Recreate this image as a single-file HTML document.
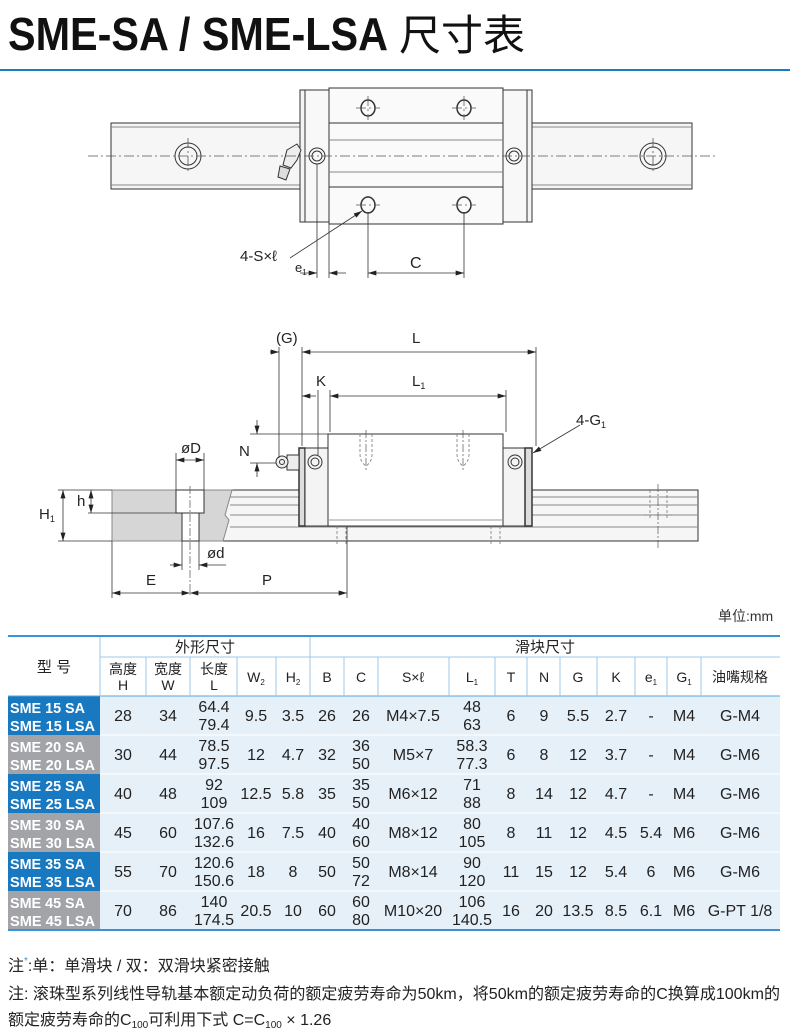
<!DOCTYPE html>
<html><head><meta charset="utf-8"><style>
html,body{margin:0;padding:0;background:#fff;}
svg{display:block;}
text{font-family:"Liberation Sans","Noto Sans CJK SC",sans-serif;}
</style></head><body>
<svg width="790" height="1034" viewBox="0 0 790 1034" xmlns="http://www.w3.org/2000/svg">
<defs>
<marker id="a" viewBox="0 0 10 6" refX="10" refY="3" markerWidth="9" markerHeight="5" orient="auto-start-reverse" markerUnits="userSpaceOnUse"><path d="M0,0L10,3L0,6z" fill="#222"/></marker>
</defs>
<!-- Title -->
<text x="8" y="50" font-size="46" font-weight="bold" fill="#111" textLength="380" lengthAdjust="spacingAndGlyphs">SME-SA / SME-LSA</text>
<text x="399" y="50" font-size="42" fill="#111" font-family="Noto Sans CJK SC,sans-serif">尺寸表</text>
<rect x="0" y="69" width="790" height="2" fill="#1a7cc1"/>

<!-- TOP VIEW -->
<g stroke="#333" stroke-width="1" fill="none">
<rect x="111" y="123" width="581" height="66" fill="#f6f6f6"/>
<line x1="111" y1="127" x2="692" y2="127" stroke="#888"/>
<line x1="111" y1="185" x2="692" y2="185" stroke="#888"/>
<rect x="300" y="90" width="232" height="132" fill="#f4f4f4"/>
<rect x="305" y="90" width="222" height="132" fill="#f8f8f8"/>
<rect x="329" y="88" width="174" height="136" fill="#fafafa"/>
<line x1="329" y1="123" x2="503" y2="123"/>
<line x1="329" y1="140" x2="503" y2="140" stroke="#888"/>
<line x1="329" y1="172" x2="503" y2="172" stroke="#888"/>
<line x1="329" y1="187" x2="503" y2="187"/>
<circle cx="188" cy="156" r="13"/><circle cx="188" cy="156" r="9"/>
<circle cx="653" cy="156" r="13"/><circle cx="653" cy="156" r="9"/>
<circle cx="317" cy="156" r="8"/><circle cx="317" cy="156" r="5"/>
<circle cx="514" cy="156" r="8"/><circle cx="514" cy="156" r="5"/>
<ellipse cx="368" cy="108" rx="7" ry="8" stroke-width="1.5"/>
<ellipse cx="464" cy="108" rx="7" ry="8" stroke-width="1.5"/>
<ellipse cx="368" cy="205" rx="7" ry="8" stroke-width="1.5"/>
<ellipse cx="464" cy="205" rx="7" ry="8" stroke-width="1.5"/>
<path d="M287,150 l10,-6 l4,6 l-4,10 l-6,8 l-8,-3 z" fill="#eee"/>
<path d="M280,166 l10,3 l-4,11 l-8,-3 z" fill="#ddd"/>
</g>
<g stroke="#555" stroke-width="0.8" stroke-dasharray="10,3,2,3">
<line x1="88" y1="156" x2="718" y2="156"/>
<line x1="188" y1="138" x2="188" y2="174"/><line x1="653" y1="138" x2="653" y2="174"/>
<line x1="368" y1="96" x2="368" y2="120"/><line x1="464" y1="96" x2="464" y2="120"/>
<line x1="356" y1="108" x2="380" y2="108"/><line x1="452" y1="108" x2="476" y2="108"/>
<line x1="356" y1="205" x2="380" y2="205"/><line x1="452" y1="205" x2="476" y2="205"/>
</g>
<g stroke="#333" stroke-width="0.8" fill="none">
<line x1="317" y1="164" x2="317" y2="278"/>
<line x1="329" y1="224" x2="329" y2="278"/>
<line x1="368" y1="212" x2="368" y2="278"/>
<line x1="464" y1="212" x2="464" y2="278"/>
<line x1="300" y1="273" x2="317" y2="273" marker-end="url(#a)"/>
<line x1="346" y1="273" x2="329" y2="273" marker-end="url(#a)"/>
<line x1="368" y1="273" x2="464" y2="273" marker-start="url(#a)" marker-end="url(#a)"/>
<path d="M290,258 L362,211" marker-end="url(#a)"/>
</g>
<text x="240" y="261" font-size="15" fill="#222">4-S×ℓ</text>
<text x="295" y="272" font-size="13" fill="#222">e<tspan font-size="8" dy="3">1</tspan></text>
<text x="410" y="268" font-size="16" fill="#222">C</text>

<!-- SIDE VIEW -->
<g stroke="#333" stroke-width="1" fill="none">
<rect x="112" y="490" width="586" height="51" fill="#f6f6f6"/>
<line x1="230" y1="497" x2="698" y2="497" stroke="#888"/>
<line x1="230" y1="505" x2="698" y2="505" stroke="#888"/>
<line x1="230" y1="515" x2="698" y2="515" stroke="#888"/>
<line x1="230" y1="527" x2="698" y2="527" stroke="#888"/>
<path d="M112,490 L232,490 L225,515 L229,520 L223,541 L112,541 z" fill="#d6d6d6" stroke="#888"/>
<rect x="176" y="490" width="28" height="23" fill="#fff"/>
<rect x="182" y="513" width="17" height="28" fill="#fff"/>
<rect x="299" y="448" width="6" height="78" fill="#ddd" stroke-width="1.5"/>
<rect x="305" y="448" width="23" height="78" fill="#f4f4f4"/>
<rect x="503" y="448" width="22" height="78" fill="#f4f4f4"/>
<rect x="525" y="448" width="7" height="78" fill="#ddd" stroke-width="1.5"/>
<rect x="328" y="434" width="175" height="92" fill="#fff"/>
<line x1="328" y1="520" x2="503" y2="520" stroke="#999"/>
<circle cx="315" cy="462" r="7"/><circle cx="315" cy="462" r="4"/>
<circle cx="515" cy="462" r="7"/><circle cx="515" cy="462" r="4"/>
<rect x="287" y="455" width="12" height="15" fill="#eee"/>
<circle cx="282" cy="462" r="6" fill="#eee"/><circle cx="282" cy="462" r="2.5"/>
</g>
<g stroke="#777" stroke-width="0.8" fill="none" stroke-dasharray="3,2">
<path d="M360,434 v20 q0,8 6,12 q6,-4 6,-12 v-20"/>
<path d="M457,434 v20 q0,8 6,12 q6,-4 6,-12 v-20"/>
<line x1="337" y1="526" x2="337" y2="546"/><line x1="346" y1="526" x2="346" y2="546"/>
<line x1="491" y1="526" x2="491" y2="546"/><line x1="500" y1="526" x2="500" y2="546"/>
<path d="M650,490 v30 M667,490 v30 M644,515 h28"/>
</g>
<g stroke="#555" stroke-width="0.7" stroke-dasharray="8,2,2,2">
<line x1="190" y1="486" x2="190" y2="595"/>
<line x1="366" y1="430" x2="366" y2="470"/><line x1="463" y1="430" x2="463" y2="470"/>
<line x1="658" y1="484" x2="658" y2="548"/>
</g>
<g stroke="#333" stroke-width="0.8" fill="none">
<line x1="279" y1="347" x2="279" y2="458"/>
<line x1="302" y1="347" x2="302" y2="446"/>
<line x1="536" y1="347" x2="536" y2="446"/>
<line x1="270" y1="352" x2="279" y2="352" marker-end="url(#a)"/>
<line x1="302" y1="352" x2="536" y2="352" marker-start="url(#a)" marker-end="url(#a)"/>
<line x1="330" y1="390" x2="330" y2="432"/>
<line x1="506" y1="390" x2="506" y2="432"/>
<line x1="316" y1="396" x2="302" y2="396" marker-end="url(#a)"/>
<line x1="330" y1="396" x2="506" y2="396" marker-start="url(#a)" marker-end="url(#a)"/>
<line x1="318" y1="390" x2="318" y2="455"/>
<line x1="250" y1="434" x2="328" y2="434"/>
<line x1="250" y1="463" x2="276" y2="463"/>
<line x1="257" y1="420" x2="257" y2="434" marker-end="url(#a)"/>
<line x1="257" y1="477" x2="257" y2="463" marker-end="url(#a)"/>
<line x1="176" y1="453" x2="176" y2="490"/><line x1="204" y1="453" x2="204" y2="490"/>
<line x1="176" y1="460" x2="204" y2="460" marker-start="url(#a)" marker-end="url(#a)"/>
<line x1="182" y1="541" x2="182" y2="570"/><line x1="199" y1="541" x2="199" y2="570"/>
<line x1="170" y1="565" x2="182" y2="565" marker-end="url(#a)"/>
<line x1="226" y1="565" x2="199" y2="565" marker-end="url(#a)"/>
<line x1="58" y1="490" x2="112" y2="490"/><line x1="58" y1="541" x2="112" y2="541"/>
<line x1="88" y1="513" x2="176" y2="513"/>
<line x1="63" y1="490" x2="63" y2="541" marker-start="url(#a)" marker-end="url(#a)"/>
<line x1="91" y1="490" x2="91" y2="513" marker-start="url(#a)" marker-end="url(#a)"/>
<line x1="112" y1="541" x2="112" y2="598"/>
<line x1="347" y1="526" x2="347" y2="598"/>
<line x1="112" y1="593" x2="190" y2="593" marker-start="url(#a)" marker-end="url(#a)"/>
<line x1="190" y1="593" x2="347" y2="593" marker-start="url(#a)" marker-end="url(#a)"/>
<path d="M580,425 L533,453" marker-end="url(#a)"/>
</g>
<g font-size="15" fill="#222">
<text x="276" y="343">(G)</text>
<text x="412" y="343">L</text>
<text x="316" y="386">K</text>
<text x="412" y="386">L<tspan font-size="9" dy="3">1</tspan></text>
<text x="576" y="425">4-G<tspan font-size="9" dy="3">1</tspan></text>
<text x="239" y="456">N</text>
<text x="181" y="453">øD</text>
<text x="77" y="506">h</text>
<text x="39" y="519">H<tspan font-size="9" dy="3">1</tspan></text>
<text x="207" y="558">ød</text>
<text x="146" y="585">E</text>
<text x="262" y="585">P</text>
</g>
<text x="718" y="621" font-size="14" fill="#333">单位:mm</text>

<!-- TABLE -->
<g font-size="16" fill="#222" text-anchor="middle">
<rect x="8" y="696" width="772" height="234" fill="#e6f0f9"/>
<rect x="8" y="696" width="92" height="39" fill="#1878c0"/>
<rect x="8" y="735" width="92" height="39" fill="#a3a4a8"/>
<rect x="8" y="774" width="92" height="39" fill="#1878c0"/>
<rect x="8" y="813" width="92" height="39" fill="#a3a4a8"/>
<rect x="8" y="852" width="92" height="39" fill="#1878c0"/>
<rect x="8" y="891" width="92" height="39" fill="#a3a4a8"/>
<g stroke="#9cc7ea" stroke-width="1">
<line x1="100" y1="657" x2="780" y2="657"/>
<line x1="8" y1="696" x2="780" y2="696" stroke="#5aa3dc"/>
<line x1="100" y1="735" x2="780" y2="735" stroke="#fff"/>
<line x1="100" y1="774" x2="780" y2="774" stroke="#fff"/>
<line x1="100" y1="813" x2="780" y2="813" stroke="#fff"/>
<line x1="100" y1="852" x2="780" y2="852" stroke="#fff"/>
<line x1="100" y1="891" x2="780" y2="891" stroke="#fff"/>
<line x1="100" y1="636" x2="100" y2="696"/>
<line x1="310" y1="636" x2="310" y2="696"/>
<line x1="146" y1="657" x2="146" y2="696"/><line x1="190" y1="657" x2="190" y2="696"/>
<line x1="237" y1="657" x2="237" y2="696"/><line x1="276" y1="657" x2="276" y2="696"/>
<line x1="344" y1="657" x2="344" y2="696"/><line x1="378" y1="657" x2="378" y2="696"/>
<line x1="449" y1="657" x2="449" y2="696"/><line x1="495" y1="657" x2="495" y2="696"/>
<line x1="527" y1="657" x2="527" y2="696"/><line x1="560" y1="657" x2="560" y2="696"/>
<line x1="597" y1="657" x2="597" y2="696"/><line x1="635" y1="657" x2="635" y2="696"/>
<line x1="667" y1="657" x2="667" y2="696"/><line x1="701" y1="657" x2="701" y2="696"/>
</g>
<rect x="8" y="635" width="772" height="2" fill="#3a93d6"/>
<rect x="8" y="929" width="772" height="2" fill="#3a93d6"/>
<text x="54" y="672" font-size="15">型 号</text>
<text x="205" y="652" font-size="15">外形尺寸</text>
<text x="545" y="652" font-size="15">滑块尺寸</text>
<g font-size="14">
<text x="123" y="674">高度</text><text x="123" y="690">H</text>
<text x="168" y="674">宽度</text><text x="168" y="690">W</text>
<text x="214" y="674">长度</text><text x="214" y="690">L</text>
<text x="256" y="682">W<tspan font-size="8" dy="3">2</tspan></text>
<text x="293" y="682">H<tspan font-size="8" dy="3">2</tspan></text>
<text x="327" y="682">B</text><text x="361" y="682">C</text>
<text x="413" y="682">S×ℓ</text>
<text x="472" y="682">L<tspan font-size="8" dy="3">1</tspan></text>
<text x="511" y="682">T</text><text x="544" y="682">N</text><text x="578" y="682">G</text><text x="616" y="682">K</text>
<text x="651" y="682">e<tspan font-size="8" dy="3">1</tspan></text>
<text x="684" y="682">G<tspan font-size="8" dy="3">1</tspan></text>
<text x="740" y="682">油嘴规格</text>
</g>
<g font-weight="bold" fill="#fff" text-anchor="start" font-size="15">
<text x="10" y="713" textLength="75" lengthAdjust="spacingAndGlyphs">SME 15 SA</text><text x="10" y="731" textLength="85" lengthAdjust="spacingAndGlyphs">SME 15 LSA</text>
<text x="10" y="752" textLength="75" lengthAdjust="spacingAndGlyphs">SME 20 SA</text><text x="10" y="770" textLength="85" lengthAdjust="spacingAndGlyphs">SME 20 LSA</text>
<text x="10" y="791" textLength="75" lengthAdjust="spacingAndGlyphs">SME 25 SA</text><text x="10" y="809" textLength="85" lengthAdjust="spacingAndGlyphs">SME 25 LSA</text>
<text x="10" y="830" textLength="75" lengthAdjust="spacingAndGlyphs">SME 30 SA</text><text x="10" y="848" textLength="85" lengthAdjust="spacingAndGlyphs">SME 30 LSA</text>
<text x="10" y="869" textLength="75" lengthAdjust="spacingAndGlyphs">SME 35 SA</text><text x="10" y="887" textLength="85" lengthAdjust="spacingAndGlyphs">SME 35 LSA</text>
<text x="10" y="908" textLength="75" lengthAdjust="spacingAndGlyphs">SME 45 SA</text><text x="10" y="926" textLength="85" lengthAdjust="spacingAndGlyphs">SME 45 LSA</text>
</g>
<g>
<text x="123" y="721">28</text><text x="168" y="721">34</text><text x="214" y="712">64.4</text><text x="214" y="730">79.4</text>
<text x="256" y="721">9.5</text><text x="293" y="721">3.5</text><text x="327" y="721">26</text><text x="361" y="721">26</text>
<text x="413" y="721">M4×7.5</text><text x="472" y="712">48</text><text x="472" y="730">63</text>
<text x="511" y="721">6</text><text x="544" y="721">9</text><text x="578" y="721">5.5</text><text x="616" y="721">2.7</text>
<text x="651" y="721">-</text><text x="684" y="721">M4</text><text x="740" y="721">G-M4</text>
</g>
<g transform="translate(0,39)">
<text x="123" y="721">30</text><text x="168" y="721">44</text><text x="214" y="712">78.5</text><text x="214" y="730">97.5</text>
<text x="256" y="721">12</text><text x="293" y="721">4.7</text><text x="327" y="721">32</text><text x="361" y="712">36</text><text x="361" y="730">50</text>
<text x="413" y="721">M5×7</text><text x="472" y="712">58.3</text><text x="472" y="730">77.3</text>
<text x="511" y="721">6</text><text x="544" y="721">8</text><text x="578" y="721">12</text><text x="616" y="721">3.7</text>
<text x="651" y="721">-</text><text x="684" y="721">M4</text><text x="740" y="721">G-M6</text>
</g>
<g transform="translate(0,78)">
<text x="123" y="721">40</text><text x="168" y="721">48</text><text x="214" y="712">92</text><text x="214" y="730">109</text>
<text x="256" y="721">12.5</text><text x="293" y="721">5.8</text><text x="327" y="721">35</text><text x="361" y="712">35</text><text x="361" y="730">50</text>
<text x="413" y="721">M6×12</text><text x="472" y="712">71</text><text x="472" y="730">88</text>
<text x="511" y="721">8</text><text x="544" y="721">14</text><text x="578" y="721">12</text><text x="616" y="721">4.7</text>
<text x="651" y="721">-</text><text x="684" y="721">M4</text><text x="740" y="721">G-M6</text>
</g>
<g transform="translate(0,117)">
<text x="123" y="721">45</text><text x="168" y="721">60</text><text x="214" y="712">107.6</text><text x="214" y="730">132.6</text>
<text x="256" y="721">16</text><text x="293" y="721">7.5</text><text x="327" y="721">40</text><text x="361" y="712">40</text><text x="361" y="730">60</text>
<text x="413" y="721">M8×12</text><text x="472" y="712">80</text><text x="472" y="730">105</text>
<text x="511" y="721">8</text><text x="544" y="721">11</text><text x="578" y="721">12</text><text x="616" y="721">4.5</text>
<text x="651" y="721">5.4</text><text x="684" y="721">M6</text><text x="740" y="721">G-M6</text>
</g>
<g transform="translate(0,156)">
<text x="123" y="721">55</text><text x="168" y="721">70</text><text x="214" y="712">120.6</text><text x="214" y="730">150.6</text>
<text x="256" y="721">18</text><text x="293" y="721">8</text><text x="327" y="721">50</text><text x="361" y="712">50</text><text x="361" y="730">72</text>
<text x="413" y="721">M8×14</text><text x="472" y="712">90</text><text x="472" y="730">120</text>
<text x="511" y="721">11</text><text x="544" y="721">15</text><text x="578" y="721">12</text><text x="616" y="721">5.4</text>
<text x="651" y="721">6</text><text x="684" y="721">M6</text><text x="740" y="721">G-M6</text>
</g>
<g transform="translate(0,195)">
<text x="123" y="721">70</text><text x="168" y="721">86</text><text x="214" y="712">140</text><text x="214" y="730">174.5</text>
<text x="256" y="721">20.5</text><text x="293" y="721">10</text><text x="327" y="721">60</text><text x="361" y="712">60</text><text x="361" y="730">80</text>
<text x="413" y="721">M10×20</text><text x="472" y="712">106</text><text x="472" y="730">140.5</text>
<text x="511" y="721">16</text><text x="544" y="721">20</text><text x="578" y="721">13.5</text><text x="616" y="721">8.5</text>
<text x="651" y="721">6.1</text><text x="684" y="721">M6</text><text x="740" y="721">G-PT 1/8</text>
</g>
</g>

<!-- Notes -->
<g font-size="16" fill="#222">
<text x="8" y="971">注<tspan fill="#3a93d6" font-size="10" dy="-7">*</tspan><tspan dy="7">:单：单滑块 / 双：双滑块紧密接触</tspan></text>
<text x="8" y="999" textLength="772" lengthAdjust="spacingAndGlyphs">注: 滚珠型系列线性导轨基本额定动负荷的额定疲劳寿命为50km，将50km的额定疲劳寿命的C换算成100km的</text>
<text x="8" y="1025">额定疲劳寿命的C<tspan font-size="10" dy="3">100</tspan><tspan dy="-3">可利用下式 C=C</tspan><tspan font-size="10" dy="3">100</tspan><tspan dy="-3"> × 1.26</tspan></text>
</g>
</svg>
</body></html>
